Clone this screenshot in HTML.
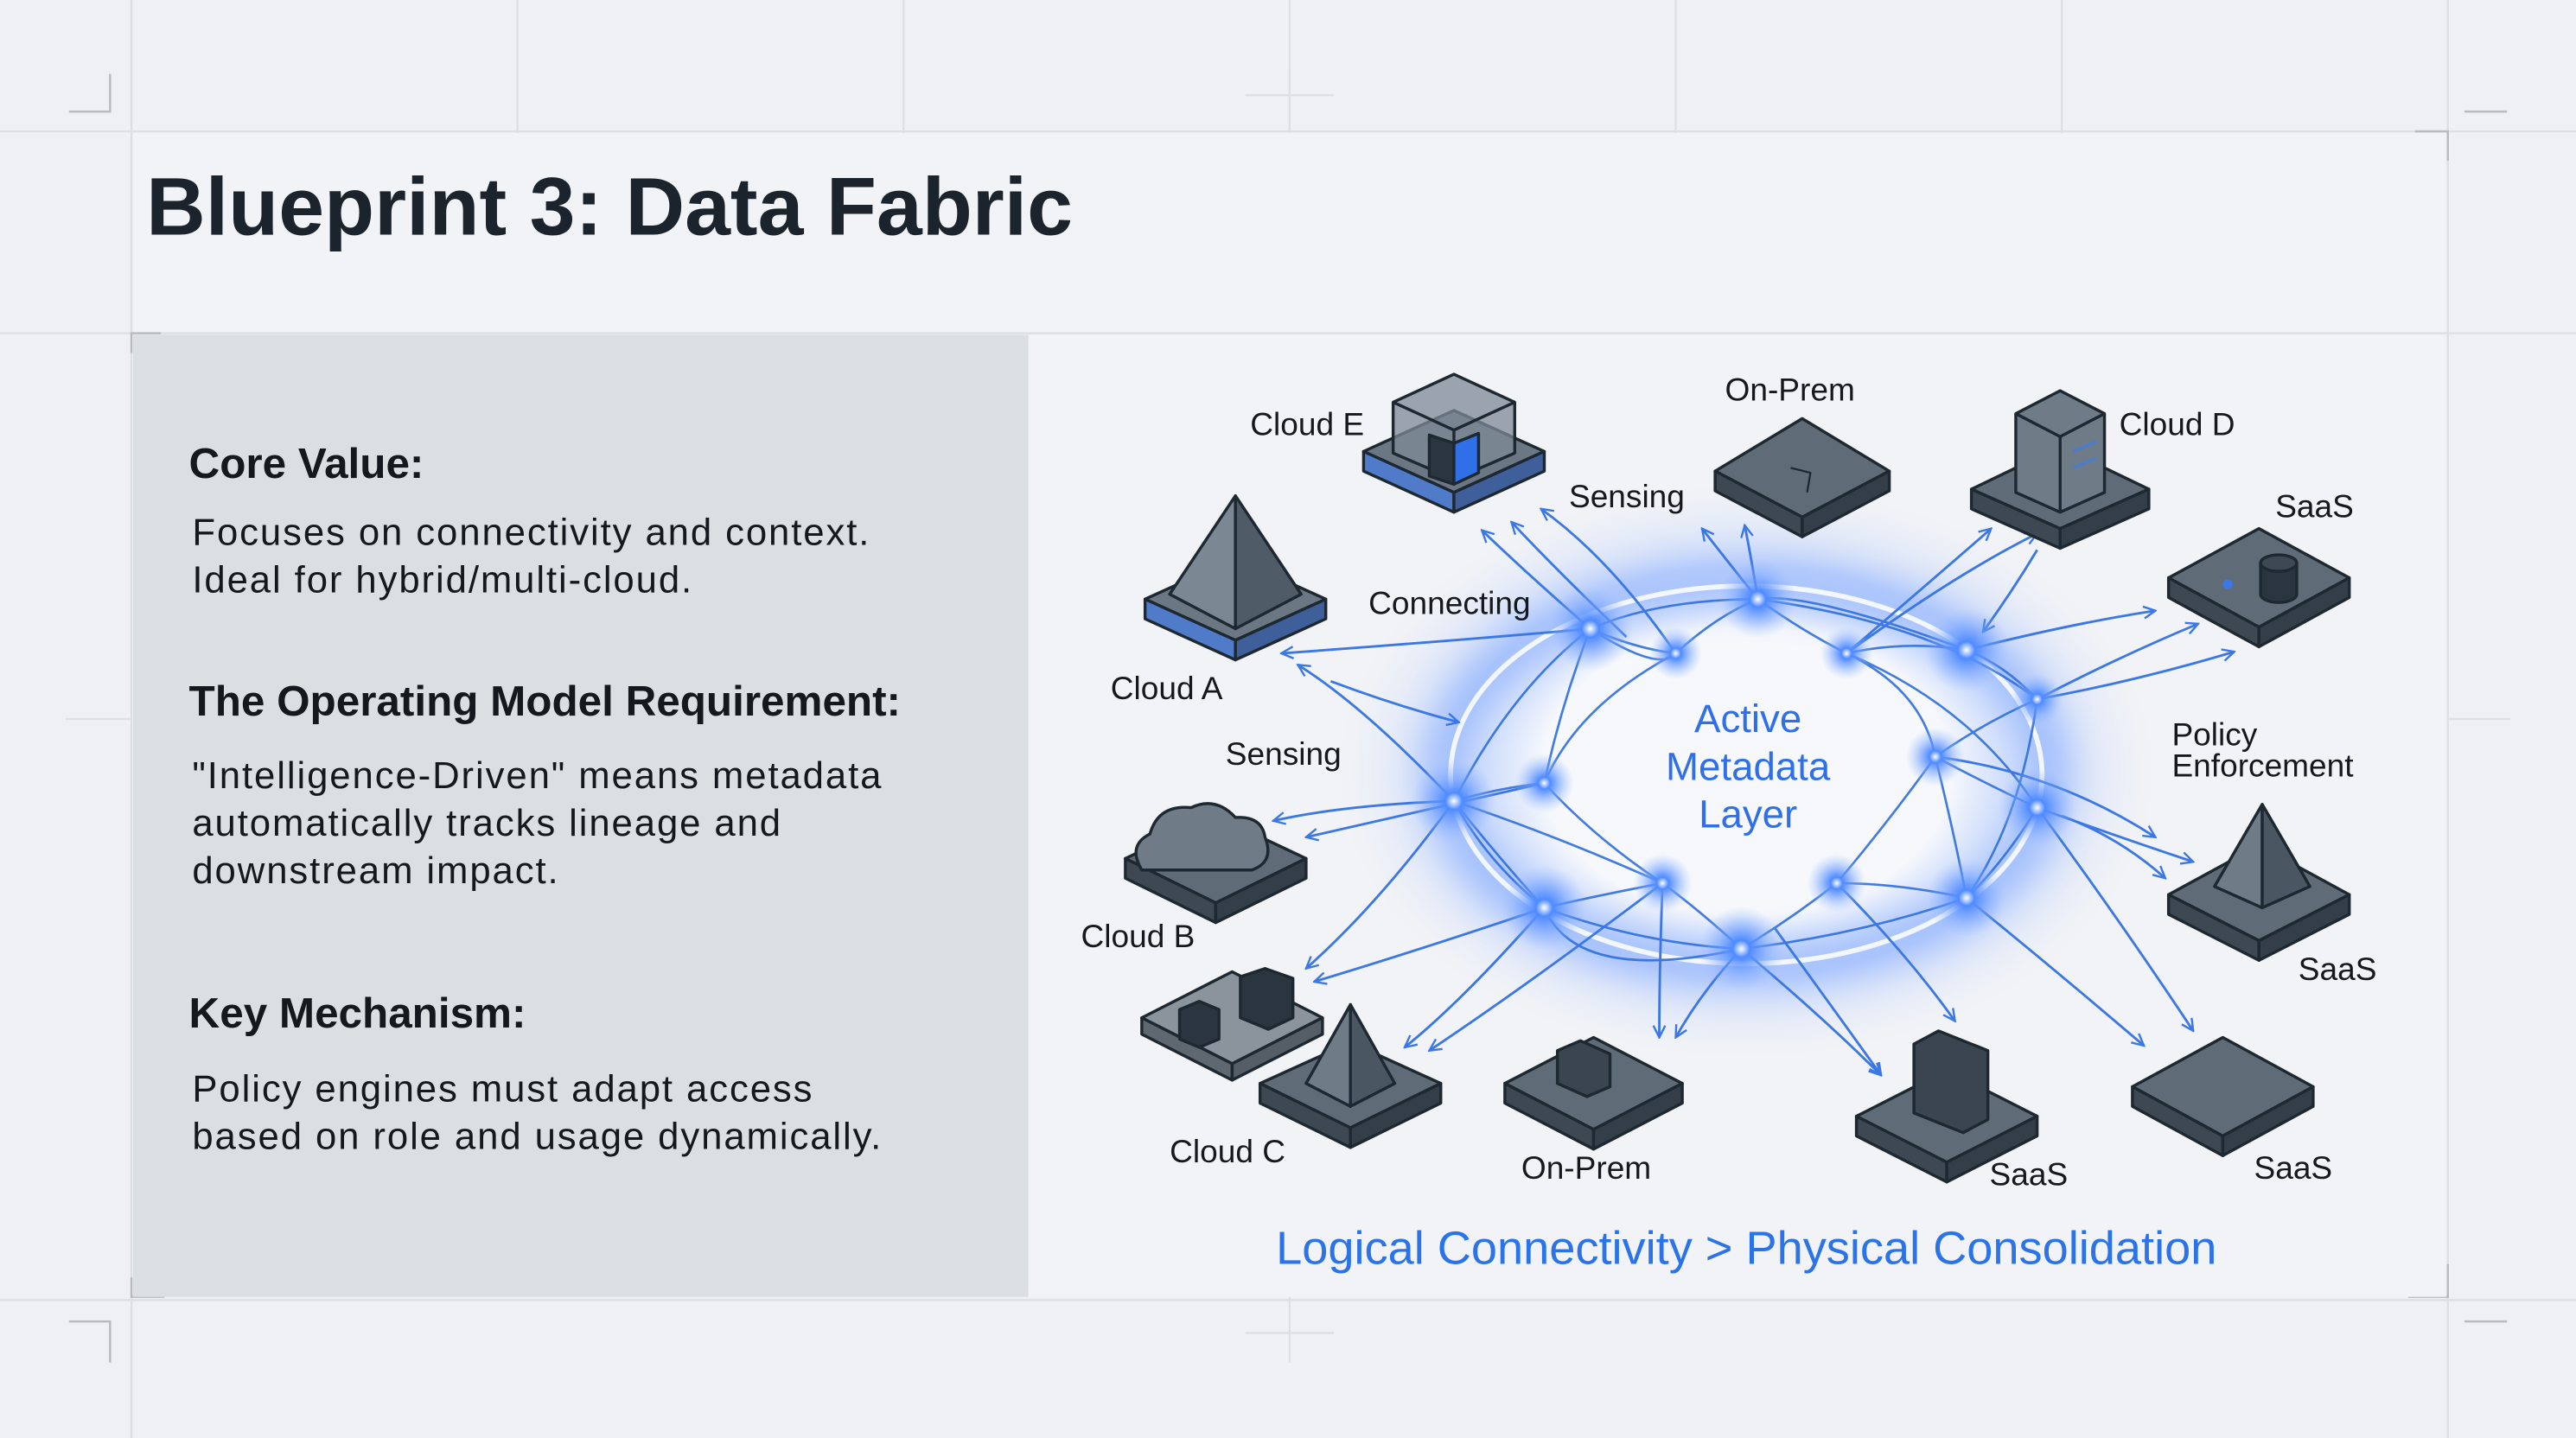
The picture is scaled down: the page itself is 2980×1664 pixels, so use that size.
<!DOCTYPE html>
<html><head><meta charset="utf-8"><style>
html,body{margin:0;padding:0;background:#eef0f3;}
svg{display:block;}
</style></head><body>
<svg width="2980" height="1664" viewBox="0 0 1568 876" preserveAspectRatio="none" xmlns="http://www.w3.org/2000/svg" font-family="Liberation Sans, sans-serif">
<defs>
<radialGradient id="glow"><stop offset="0" stop-color="#ffffff"/><stop offset="0.2" stop-color="#4f8bff"/><stop offset="0.55" stop-color="#6f9fff" stop-opacity="0.55"/><stop offset="1" stop-color="#9dbfff" stop-opacity="0"/></radialGradient>
<radialGradient id="halo"><stop offset="0.5" stop-color="#f6f8fc" stop-opacity="1"/><stop offset="0.72" stop-color="#a9c4ff" stop-opacity="0.6"/><stop offset="1" stop-color="#dbe6fb" stop-opacity="0"/></radialGradient>
<filter id="bl" x="-30%" y="-30%" width="160%" height="160%"><feGaussianBlur stdDeviation="10"/></filter>
<marker id="ar" viewBox="0 0 10 10" refX="9" refY="5" markerWidth="9" markerHeight="9" orient="auto-start-reverse" markerUnits="userSpaceOnUse"><path d="M1,1 L9,5 L1,9" fill="none" stroke="#3b78e6" stroke-width="1.4"/></marker>
</defs>
<rect width="1568" height="876" fill="#eef0f3"/>
<g stroke="#dcdfe4" stroke-width="1.2">
<line x1="80" y1="0" x2="80" y2="876"/><line x1="315" y1="0" x2="315" y2="200"/><line x1="550" y1="0" x2="550" y2="200"/><line x1="785" y1="0" x2="785" y2="200"/><line x1="1020" y1="0" x2="1020" y2="200"/><line x1="1255" y1="0" x2="1255" y2="200"/><line x1="1490" y1="0" x2="1490" y2="876"/>
<line x1="0" y1="80" x2="1568" y2="80"/><line x1="0" y1="203" x2="1568" y2="203"/><line x1="0" y1="792" x2="1568" y2="792"/>
<line x1="785" y1="790" x2="785" y2="830"/><line x1="758" y1="812" x2="812" y2="812"/>
<line x1="785" y1="45" x2="785" y2="80"/><line x1="758" y1="58" x2="812" y2="58"/>
<line x1="40" y1="438" x2="80" y2="438"/><line x1="1490" y1="438" x2="1528" y2="438"/>
</g>
<g stroke="#b8bcc2" stroke-width="1.3" fill="none">
<path d="M42,68 H67 V45"/><path d="M42,805 H67 V830"/><path d="M1500,68 H1526"/><path d="M1500,805 H1526"/>
<path d="M80,215 V203 H98"/><path d="M80,778 V790 H100"/><path d="M1470,80 H1490 V98"/><path d="M1466,790 H1490 V770"/>
</g>
<rect x="81" y="81" width="1408" height="121" fill="#f2f3f6"/>
<text x="89" y="143" font-size="50" font-weight="bold" fill="#1b232c">Blueprint 3: Data Fabric</text>
<rect x="81" y="204" width="545" height="586" fill="#dcdfe2"/>
<rect x="626" y="204" width="863" height="586" fill="#f2f3f6"/>
<g fill="#15191e">
<text x="115" y="291" font-size="26" font-weight="bold">Core Value:</text>
<text x="117" y="332" font-size="23" letter-spacing="1">Focuses on connectivity and context.</text>
<text x="117" y="361" font-size="23" letter-spacing="1">Ideal for hybrid/multi-cloud.</text>
<text x="115" y="436" font-size="26" font-weight="bold">The Operating Model Requirement:</text>
<text x="117" y="480" font-size="23" letter-spacing="1">"Intelligence-Driven" means metadata</text>
<text x="117" y="509" font-size="23" letter-spacing="1">automatically tracks lineage and</text>
<text x="117" y="538" font-size="23" letter-spacing="1">downstream impact.</text>
<text x="115" y="626" font-size="26" font-weight="bold">Key Mechanism:</text>
<text x="117" y="671" font-size="23" letter-spacing="1">Policy engines must adapt access</text>
<text x="117" y="700" font-size="23" letter-spacing="1">based on role and usage dynamically.</text>
</g>
<ellipse cx="1063" cy="470" rx="250" ry="175" fill="url(#halo)"/>
<ellipse cx="1063" cy="472" rx="185" ry="115" fill="none" stroke="#5d92ff" stroke-width="26" opacity="0.35" filter="url(#bl)"/>
<ellipse cx="1063" cy="472" rx="180" ry="115" fill="none" stroke="#ffffff" stroke-width="3" opacity="0.85"/>
<g fill="none" stroke="#2f6fe0" stroke-width="1.4" opacity="0.9">
<path d="M968,383 Q995,395 1020,398 Q1045,375 1070,365 Q1098,385 1124,398 Q1160,390 1197,396 Q1220,405 1240,426 Q1208,440 1178,461 Q1210,478 1240,492 Q1220,525 1197,547 Q1155,538 1118,538 Q1090,560 1060,578 Q1035,555 1012,538 Q975,545 940,553 Q910,520 885,488 Q912,480 940,477 Q950,430 968,383"/>
<path d="M968,383 Q920,420 885,488 Q905,525 940,553 Q1000,575 1060,578 Q1130,570 1197,547 Q1230,500 1240,426 Q1180,380 1070,365 Q1010,365 968,383"/>
<path d="M1020,398 Q960,430 940,477 Q970,510 1012,538"/><path d="M1124,398 Q1170,420 1178,461 Q1150,500 1118,538"/>
<path d="M968,383 Q1010,410 1020,398"/><path d="M885,488 Q950,510 1012,538"/><path d="M1124,398 Q1200,430 1240,492"/>
<path d="M1178,461 Q1190,510 1197,547"/><path d="M940,553 Q960,600 1060,578"/><path d="M1070,365 Q1100,360 1197,396"/>
</g>
<g fill="none" stroke="#3b78e6" stroke-width="1.5" marker-end="url(#ar)">
<path d="M968,383 Q930,350 902,323"/><path d="M990,388 Q950,350 920,318"/><path d="M1020,398 Q980,340 938,310"/>
<path d="M1070,365 Q1066,340 1062,320"/><path d="M1070,365 Q1050,340 1036,322"/>
<path d="M1124,398 Q1180,350 1212,322"/><path d="M1124,398 Q1190,350 1240,325"/><path d="M1240,335 Q1225,360 1207,385"/>
<path d="M1197,396 Q1260,380 1312,372"/><path d="M1240,426 Q1290,400 1338,380"/><path d="M1240,426 Q1300,415 1360,397"/>
<path d="M1178,461 Q1250,470 1312,510"/><path d="M1240,492 Q1290,510 1335,525"/><path d="M1255,497 Q1290,510 1318,535"/>
<path d="M1197,547 Q1250,590 1305,637"/><path d="M1240,492 Q1290,560 1335,628"/>
<path d="M1118,538 Q1160,580 1190,622"/><path d="M1060,578 Q1110,620 1145,655"/><path d="M1080,565 Q1120,620 1145,655"/>
<path d="M1060,578 Q1035,605 1020,632"/><path d="M1012,538 Q1010,590 1010,632"/>
<path d="M1012,538 Q930,600 870,640"/><path d="M940,553 Q890,610 855,638"/>
<path d="M940,553 Q860,580 800,598"/><path d="M885,488 Q840,550 795,590"/>
<path d="M940,477 Q860,495 795,510"/><path d="M885,488 Q820,490 775,500"/>
<path d="M968,383 Q890,390 780,398"/><path d="M885,488 Q830,430 790,405"/><path d="M810,415 Q850,430 888,440"/>
</g>
<g>
<circle cx="968" cy="383" r="26" fill="url(#glow)"/><circle cx="1020" cy="398" r="16" fill="url(#glow)"/><circle cx="1070" cy="365" r="24" fill="url(#glow)"/><circle cx="1124" cy="398" r="16" fill="url(#glow)"/><circle cx="1197" cy="396" r="26" fill="url(#glow)"/><circle cx="1240" cy="426" r="16" fill="url(#glow)"/><circle cx="1178" cy="461" r="18" fill="url(#glow)"/><circle cx="1240" cy="492" r="24" fill="url(#glow)"/><circle cx="1197" cy="547" r="24" fill="url(#glow)"/><circle cx="1118" cy="538" r="18" fill="url(#glow)"/><circle cx="1060" cy="578" r="26" fill="url(#glow)"/><circle cx="1012" cy="538" r="18" fill="url(#glow)"/><circle cx="940" cy="553" r="26" fill="url(#glow)"/><circle cx="885" cy="488" r="26" fill="url(#glow)"/><circle cx="940" cy="477" r="18" fill="url(#glow)"/>
</g>
<g fill="#2f6fe8" font-size="24" text-anchor="middle">
<text x="1064" y="446">Active</text><text x="1064" y="475">Metadata</text><text x="1064" y="504">Layer</text>
</g>
<g stroke="#1e2831" stroke-width="1.8" stroke-linejoin="round">
<path d="M885,250 L940,275 L885,300 L830,275Z" fill="#6b7884"/><path d="M830,275 L885,300 L885,312 L830,287Z" fill="#4f7bc8"/><path d="M885,300 L940,275 L940,287 L885,312Z" fill="#3e5f9a"/>
<path d="M885,228 L922,245 L922,276 L885,292 L848,276 L848,245Z" fill="#7d8a96" fill-opacity="0.75"/><path d="M848,245 L885,262 L922,245 M885,262 V292" fill="none"/>
<path d="M870,265 L885,270 L885,295 L870,290Z" fill="#2b3540"/><path d="M885,270 L900,264 L900,288 L885,295Z" fill="#2f6fe8"/>
<path d="M1097,255 L1150,287 L1097,315 L1044,287Z" fill="#5f6b77"/><path d="M1044,287 L1097,315 L1097,327 L1044,299Z" fill="#3d4852"/><path d="M1097,315 L1150,287 L1150,299 L1097,327Z" fill="#333e48"/>
<path d="M1090,285 L1102,288 L1100,300" fill="none" stroke-width="1.2"/>
<path d="M1254,272 L1308,298 L1254,322 L1200,298Z" fill="#5f6b77"/><path d="M1200,298 L1254,322 L1254,334 L1200,310Z" fill="#3d4852"/><path d="M1254,322 L1308,298 L1308,310 L1254,334Z" fill="#333e48"/>
<path d="M1254,238 L1281,252 L1281,300 L1254,312 L1227,300 L1227,252Z" fill="#6f7c88"/><path d="M1227,252 L1254,266 L1281,252 M1254,266 V312" fill="none"/>
<path d="M1262,275 L1276,269 M1262,285 L1276,279" stroke="#4f7bc8" stroke-width="2"/>
<path d="M1375,322 L1430,352 L1375,382 L1320,352Z" fill="#5f6b77"/><path d="M1320,352 L1375,382 L1375,394 L1320,364Z" fill="#3d4852"/><path d="M1375,382 L1430,352 L1430,364 L1375,394Z" fill="#333e48"/>
<path d="M1376,343 V362 A11,5 0 0 0 1398,362 V343" fill="#2b3540"/><ellipse cx="1387" cy="343" rx="11" ry="5" fill="#3d4852"/>
<circle cx="1356" cy="356" r="3" fill="#3b78e6" stroke="none"/>
<path d="M752,340 L807,365 L752,390 L697,365Z" fill="#6b7884"/><path d="M697,365 L752,390 L752,402 L697,377Z" fill="#4f7bc8"/><path d="M752,390 L807,365 L807,377 L752,402Z" fill="#3e5f9a"/>
<path d="M752,302 L712,362 L752,383Z" fill="#7b8894"/><path d="M752,302 L792,362 L752,383Z" fill="#4f5c68"/>
<path d="M740,497 L795,523 L740,550 L685,523Z" fill="#5f6b77"/><path d="M685,523 L740,550 L740,562 L685,535Z" fill="#3d4852"/><path d="M740,550 L795,523 L795,535 L740,562Z" fill="#333e48"/>
<path d="M695,530 Q686,515 700,508 Q705,490 725,492 Q740,485 752,498 Q768,497 770,510 Q776,525 762,530Z" fill="#6f7c88"/>
<path d="M750,592 L805,620 L750,648 L695,620Z" fill="#8b949c"/><path d="M695,620 L750,648 L750,658 L695,630Z" fill="#5f6870"/><path d="M750,648 L805,620 L805,630 L750,658Z" fill="#555e66"/>
<path d="M755,595 L770,590 L787,596 V620 L772,627 L755,620Z" fill="#2b3540"/><path d="M718,615 L730,610 L742,615 V633 L730,638 L718,633Z" fill="#2b3540"/>
<path d="M822,635 L877,660 L822,687 L767,660Z" fill="#5f6b77"/><path d="M767,660 L822,687 L822,699 L767,672Z" fill="#3d4852"/><path d="M822,687 L877,660 L877,672 L822,699Z" fill="#333e48"/>
<path d="M822,612 L795,660 L822,674Z" fill="#6f7c88"/><path d="M822,612 L849,660 L822,674Z" fill="#4a5662"/>
<path d="M970,632 L1024,660 L970,688 L916,660Z" fill="#5f6b77"/><path d="M916,660 L970,688 L970,700 L916,672Z" fill="#3d4852"/><path d="M970,688 L1024,660 L1024,672 L970,700Z" fill="#333e48"/>
<path d="M948,640 L962,634 L980,642 V662 L966,668 L948,660Z" fill="#3a4550"/>
<path d="M1185,652 L1240,680 L1185,708 L1130,680Z" fill="#5f6b77"/><path d="M1130,680 L1185,708 L1185,720 L1130,692Z" fill="#3d4852"/><path d="M1185,708 L1240,680 L1240,692 L1185,720Z" fill="#333e48"/>
<path d="M1165,636 L1180,628 L1210,640 V682 L1195,690 L1165,678Z" fill="#3a4550"/>
<path d="M1353,632 L1408,662 L1353,692 L1298,662Z" fill="#5f6b77"/><path d="M1298,662 L1353,692 L1353,704 L1298,674Z" fill="#3d4852"/><path d="M1353,692 L1408,662 L1408,674 L1353,704Z" fill="#333e48"/>
<path d="M1375,515 L1430,545 L1375,573 L1320,545Z" fill="#5f6b77"/><path d="M1320,545 L1375,573 L1375,585 L1320,557Z" fill="#3d4852"/><path d="M1375,573 L1430,545 L1430,557 L1375,585Z" fill="#333e48"/>
<path d="M1377,490 L1348,540 L1377,553Z" fill="#6f7c88"/><path d="M1377,490 L1406,540 L1377,553Z" fill="#4a5662"/>
</g>
<g fill="#15191e" font-size="19.5">
<text x="761" y="265">Cloud E</text><text x="1050" y="244">On-Prem</text><text x="1290" y="265">Cloud D</text><text x="1385" y="315">SaaS</text>
<text x="955" y="309">Sensing</text><text x="833" y="374">Connecting</text><text x="676" y="426">Cloud A</text><text x="746" y="466">Sensing</text>
<text x="1322" y="454">Policy</text><text x="1322" y="473">Enforcement</text>
<text x="658" y="577">Cloud B</text><text x="1399" y="597">SaaS</text><text x="712" y="708">Cloud C</text><text x="926" y="718">On-Prem</text>
<text x="1211" y="722">SaaS</text><text x="1372" y="718">SaaS</text>
</g>
<text x="1063" y="770" font-size="28.5" fill="#2a73e8" text-anchor="middle">Logical Connectivity &gt; Physical Consolidation</text>
</svg>
</body></html>
